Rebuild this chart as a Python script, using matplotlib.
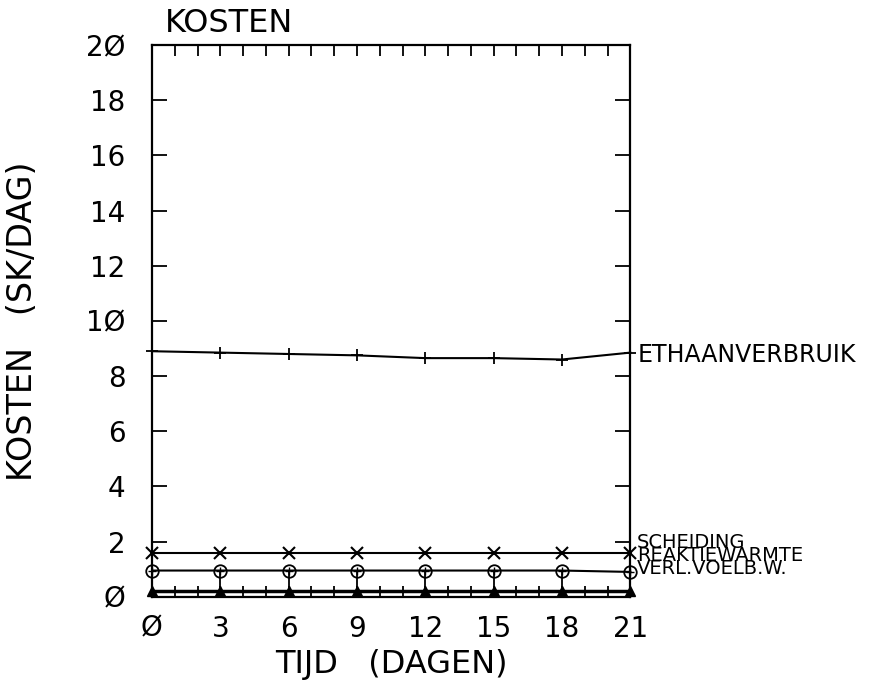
import numpy as np
import matplotlib
matplotlib.use('Agg')
import matplotlib.pyplot as plt
from matplotlib.ticker import MultipleLocator

# data (kosten in SK/dag per dag)
dagen = [0, 3, 6, 9, 12, 15, 18, 21]
ethaanverbruik = [8.9, 8.85, 8.8, 8.75, 8.65, 8.65, 8.6, 8.85]
scheiding = [1.6, 1.6, 1.6, 1.6, 1.6, 1.6, 1.6, 1.6]
reaktiewarmte = [0.95, 0.95, 0.95, 0.95, 0.95, 0.95, 0.95, 0.9]
verl_voelb = [0.2, 0.2, 0.2, 0.2, 0.2, 0.2, 0.2, 0.2]

x_labels = ['Ø', '3', '6', '9', '12', '15', '18', '21']
y_ticks = [0, 2, 4, 6, 8, 10, 12, 14, 16, 18, 20]
y_labels = ['Ø', '2', '4', '6', '8', '1Ø', '12', '14', '16', '18', '2Ø']

plt.rcParams['font.family'] = ['DejaVu Sans']

fig = plt.figure(figsize=(8.89, 6.82), dpi=100)
ax = fig.add_axes([0.171, 0.125, 0.538, 0.809])

ax.plot(dagen, ethaanverbruik, color='black', lw=1.5, marker='+', ms=9, mew=1.3)
ax.plot(dagen, scheiding, color='black', lw=1.5, marker='x', ms=8, mew=1.5)
ax.plot(dagen, reaktiewarmte, color='black', lw=1.5, marker='o', ms=9,
        mfc='none', mew=1.3)
ax.plot(dagen, reaktiewarmte, ls='none', color='black', marker='+', ms=6, mew=1)
ax.vlines(dagen, verl_voelb, reaktiewarmte, color='black', lw=1.3)
ax.plot(dagen, verl_voelb, color='black', lw=2.5, marker='^', ms=7)

ax.set_xlim(0, 21)
ax.set_ylim(0, 20)
ax.set_xticks(dagen)
ax.set_xticklabels(x_labels)
ax.xaxis.set_minor_locator(MultipleLocator(1))
ax.set_yticks(y_ticks)
ax.set_yticklabels(y_labels)
ax.tick_params(axis='both', which='both', direction='in', top=True, right=True,
               width=1.3, color='black')
ax.tick_params(axis='x', which='both', length=8, labelsize=20, pad=13)
ax.tick_params(axis='y', which='major', length=11, labelsize=20, pad=19)
for s in ax.spines.values():
    s.set_linewidth(1.6)

ax.set_xlabel('TIJD   (DAGEN)', fontsize=23)
ax.xaxis.set_label_coords(0.5, -0.123)
ax.xaxis.label.set_va('center')
ax.set_ylabel('KOSTEN   (SK/DAG)', fontsize=24)
ax.yaxis.set_label_coords(-0.27, 0.5)
ax.yaxis.label.set_va('center')
fig.text(0.186, 0.966, 'KOSTEN', fontsize=23, va='center', ha='left')

# curve names at the right hand side
ax.text(21.3, ethaanverbruik[-1] - 0.1, 'ETHAANVERBRUIK', fontsize=17, va='center')
ax.text(21.3, 1.98, 'SCHEIDING', fontsize=14, va='center')
ax.text(21.3, 1.5, 'REAKTIEWARMTE', fontsize=14, va='center')
ax.text(21.3, 1.02, 'VERL.VOELB.W.', fontsize=14, va='center')

for ln in ax.lines:
    ln.set_clip_on(False)

plt.savefig('out.png', dpi=100)
